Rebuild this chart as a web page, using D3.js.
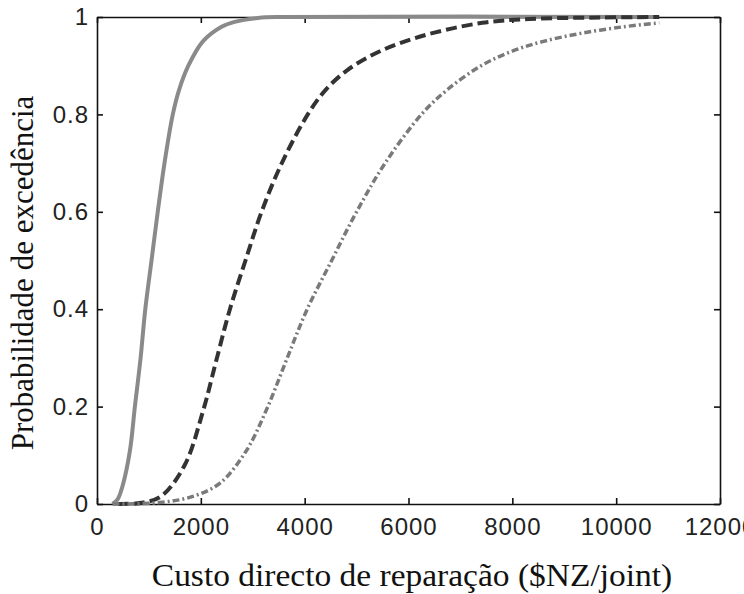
<html><head>
  <script src="https://d3js.org/d3.v7.min.js"></script>
  <style>
    body { margin: 0; background: #fff; }
    .tick text { font-family: 'Liberation Sans', Arial, sans-serif; font-size: 24px; letter-spacing: 1px; fill: #222; }
    .title { font-family: 'Liberation Serif', 'Times New Roman', serif; font-size: 31px; fill: #111; }
  </style>
</head>
<body>
  <script>
    // curve points: cost ($NZ/joint) and exceedance probability
    const solidX = [300, 400, 500, 635, 730, 840, 930, 1050, 1170, 1300, 1460, 1580, 1760, 2040, 2400, 2650, 3100, 3600, 10800]
    const solidY = [0, 0.01, 0.04, 0.11, 0.2, 0.3, 0.4, 0.5, 0.6, 0.7, 0.8, 0.85, 0.9, 0.95, 0.98, 0.99, 0.998, 1, 1]

    const dashX = [400, 900, 1250, 1690, 2040, 2310, 2560, 2860, 3170, 3560, 4060, 4400, 4810, 5300, 5830, 6500, 7420, 8330, 9700, 10830]
    const dashY = [0, 0.003, 0.017, 0.08, 0.19, 0.3, 0.4, 0.5, 0.6, 0.7, 0.8, 0.85, 0.89, 0.922, 0.946, 0.968, 0.988, 0.996, 0.999, 1]

    const dotX = [300, 1200, 1830, 2370, 2880, 3270, 3650, 4040, 4520, 5000, 5550, 6250, 6740, 7400, 8000, 8600, 9350, 10150, 10830]
    const dotY = [0, 0.003, 0.015, 0.043, 0.11, 0.195, 0.296, 0.398, 0.5, 0.6, 0.7, 0.8, 0.85, 0.9, 0.93, 0.95, 0.967, 0.98, 0.988]

    const xTicks = [0, 2000, 4000, 6000, 8000, 10000, 12000]
    const yTicks = [0, 0.2, 0.4, 0.6, 0.8, 1]

    const W = 744, H = 594
    const mLeft = 97, mRight = 720, mTop = 17, mBottom = 504

    const svg = d3.select("body").append("svg")
                  .attr("width", W)
                  .attr("height", H)

    const x = d3.scaleLinear().domain([0, 12000]).range([mLeft, mRight])
    const y = d3.scaleLinear().domain([0, 1]).range([mBottom, mTop])

    // axes, ticks pointing inward
    svg.append("g")
       .attr("transform", `translate(0,${mBottom})`)
       .call(d3.axisBottom(x).tickValues(xTicks).tickFormat(d3.format("d")).tickSizeInner(-6).tickSizeOuter(0).tickPadding(14))
    svg.append("g")
       .attr("transform", `translate(${mLeft},0)`)
       .call(d3.axisLeft(y).tickValues(yTicks).tickFormat(d => d == 0 || d == 1 ? d : d3.format(".1f")(d)).tickSizeInner(-6).tickSizeOuter(0).tickPadding(8))
    svg.append("g")
       .attr("transform", `translate(0,${mTop})`)
       .call(d3.axisTop(x).tickValues(xTicks).tickFormat("").tickSizeInner(-6).tickSizeOuter(0))
    svg.append("g")
       .attr("transform", `translate(${mRight},0)`)
       .call(d3.axisRight(y).tickValues(yTicks).tickFormat("").tickSizeInner(-6).tickSizeOuter(0))

    svg.selectAll(".domain").attr("stroke", "#111").attr("stroke-width", 1.6)
    svg.selectAll(".tick line").attr("stroke", "#111").attr("stroke-width", 1.6)
    svg.selectAll(".tick text").attr("fill", "#222")

    // curves
    const line = d3.line()
                   .x(d => x(d[0]))
                   .y(d => y(d[1]))
                   .curve(d3.curveCatmullRom.alpha(0.5))

    svg.append("path")
       .datum(d3.zip(solidX, solidY))
       .attr("d", line)
       .attr("fill", "none")
       .attr("stroke", "#8a8a8a")
       .attr("stroke-width", 4)

    svg.append("path")
       .datum(d3.zip(dashX, dashY))
       .attr("d", line)
       .attr("fill", "none")
       .attr("stroke", "#333")
       .attr("stroke-width", 4)
       .attr("stroke-dasharray", "11,5")

    svg.append("path")
       .datum(d3.zip(dotX, dotY))
       .attr("d", line)
       .attr("fill", "none")
       .attr("stroke", "#7a7a7a")
       .attr("stroke-width", 3.5)
       .attr("stroke-dasharray", "7,3,2,3")

    // axis titles
    svg.append("text")
       .attr("class", "title")
       .attr("transform", "translate(412,586) scale(1.08,1)")
       .attr("text-anchor", "middle")
       .text("Custo directo de reparação ($NZ/joint)")

    svg.append("text")
       .attr("class", "title")
       .attr("transform", "translate(33,273) rotate(-90)")
       .attr("text-anchor", "middle")
       .text("Probabilidade de excedência")
  </script>
</body></html>
